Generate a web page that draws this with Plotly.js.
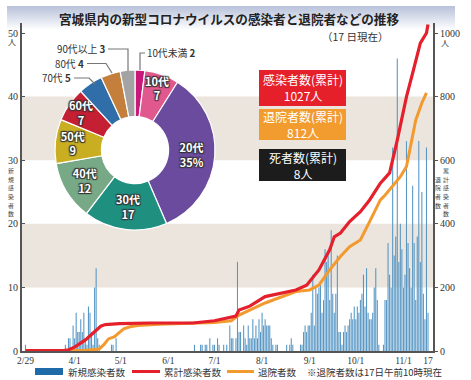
<!DOCTYPE html>
<html><head><meta charset="utf-8">
<script src="https://cdn.plot.ly/plotly-3.0.1.min.js"></script>
<style>html,body{margin:0;padding:0;background:#fff}</style>
</head><body><div id="chart" style="width:471px;height:380px"></div>
<script>
// ---- Daily new cases (2/29 .. 11/17) ----
const newFeb = [1];
const newMar = [0,0,0,0,0,0,0,0,0,0, 0,0,0,0,0,0,0,0,0,0, 0,0,0,0,0,1,0,2,2,0,4];
const newApr = [2,6,3,3,5,3,6,2,1,7, 6,3,1,10,13,2,1,0,0,0, 0,0,0,0,1,1,0,2,0,0];
const newMay = [0,0,0,0,0,0,0,0,0,0, 0,0,0,0,0,0,0,0,0,0, 0,0,0,0,0,0,0,0,0,0, 0];
const newJun = [0,0,0,0,0,0,0,0,0,0, 0,0,0,0,0,0,0,1,0,0, 0,1,1,0,1,1,0,2,0,1];
const newJul = [1,0,2,1,0,0,1,0,1,0, 4,2,2,0,2,14,3,3,0,4, 2,1,4,2,2,5,2,4,2,5, 3];
const newAug = [6,4,5,4,4,4,2,1,0,1, 1,0,0,0,0,0,1,0,1,2, 1,0,0,0,0,1,1,3,4,3, 4];
const newSep = [4,6,12,4,10,9,10,11,6,8, 16,14,15,8,19,9,6,9,15,3, 3,1,3,4,3,4,5,6,5,7];
const newOct = [5,7,6,8,9,12,7,13,6,5, 5,6,10,13,8,1,0,0,1,8, 8,17,12,10,32,15,18,46,14,20, 16];
const newNov = [10,12,33,17,13,10,26,17,8,18, 33,14,25,9,5,32,6];

// ---- Cumulative infected (read points) ----
const cumDates = ['2020-02-29','2020-03-25','2020-03-28','2020-04-01','2020-04-08','2020-04-13','2020-04-16','2020-04-18','2020-04-21','2020-04-30','2020-05-20','2020-06-17','2020-07-01','2020-07-09','2020-07-15','2020-07-17','2020-07-24','2020-08-03','2020-08-13','2020-08-23','2020-08-30','2020-09-07','2020-09-14','2020-09-17','2020-09-21','2020-09-27','2020-10-04','2020-10-10','2020-10-17','2020-10-23','2020-10-28','2020-11-03','2020-11-07','2020-11-12','2020-11-16','2020-11-17'];
const cumValues = [1,1,4,12,35,56,71,78,83,86,88,88,95,104,110,129,141,171,182,192,207,255,318,359,371,407,438,475,528,560,663,800,874,968,1000,1027];

// ---- Cumulative discharged (read points) ----
const recDates = ['2020-02-29','2020-04-04','2020-04-09','2020-04-17','2020-04-20','2020-04-23','2020-04-27','2020-04-30','2020-05-03','2020-05-07','2020-05-12','2020-05-26','2020-06-20','2020-07-01','2020-07-12','2020-07-17','2020-08-03','2020-08-23','2020-09-01','2020-09-07','2020-09-14','2020-09-21','2020-09-27','2020-10-04','2020-10-10','2020-10-17','2020-10-20','2020-10-30','2020-11-03','2020-11-06','2020-11-09','2020-11-13','2020-11-16'];
const recValues = [0,0,2,6,20,38,45,58,70,76,80,84,87,90,95,113,151,187,192,207,255,297,328,349,407,475,490,548,580,654,726,780,812];

// ---- Age breakdown (%) ----
const ageLabels = ['10代未満','10代','20代','30代','40代','50代','60代','70代','80代','90代以上'];
const ageValues = [2,7,35,17,12,9,7,5,4,3];
const ageText = ['', '10代<br>7', '20代<br>35%', '30代<br>17', '40代<br>12', '50代<br>9', '60代<br>7', '', '', ''];
const ageColors = ['#c8197a','#e0588e','#6b4b9e','#1f8f80','#78a987','#c9ae22','#c51f33','#2f6ea9','#c47f3c','#a3a3a3'];

// ---- Axis ticks / titles ----
const xTickVals = ['2020-02-29','2020-04-01','2020-05-01','2020-06-01','2020-07-01','2020-08-01','2020-09-01','2020-10-01','2020-11-01','2020-11-17'];
const xTickText = ['2/29','4/1','5/1','6/1','7/1','8/1','9/1','10/1','11/1','17'];
const yLeftTicks = [0,10,20,30,40,50];
const yRightTicks = [0,200,400,600,800,1000];
const leftTitle = '新規感染者数';
const rightTitle1 = '累計感染者数';
const rightTitle2 = '退院者数';

// summary boxes
const totalInfected = 1027, totalDischarged = 812, totalDeaths = 8;

const daily = [].concat(newFeb,newMar,newApr,newMay,newJun,newJul,newAug,newSep,newOct,newNov);
const dailyDates = daily.map((_, i) => new Date(Date.UTC(2020,1,29+i)).toISOString().slice(0,10));

// pixel -> paper helpers (plot area 22..433 x 23..351)
const PX = x => (x-22)/411, PY = y => (351-y)/328;
const serif = '"Liberation Serif","DejaVu Serif","Noto Sans CJK JP",serif';
const jp = '"Noto Sans CJK JP","Noto Sans",sans-serif';

const pieDomain = {x:[PX(55),PX(215)], y:[PY(230),PY(70)]};

const traces = [
  {type:'bar', x:dailyDates, y:daily, marker:{color:'#5897c4', line:{width:0}}, hoverinfo:'skip', showlegend:false},
  {type:'scatter', mode:'lines', x:recDates, y:recValues, yaxis:'y2', line:{color:'#f39a2e', width:3}, showlegend:false},
  {type:'scatter', mode:'lines', x:cumDates, y:cumValues, yaxis:'y2', line:{color:'#e4202c', width:3.2}, showlegend:false},
  {type:'pie', values:[1], labels:['bg'], marker:{colors:['#ffffff']}, textinfo:'none', hoverinfo:'skip', domain:pieDomain, sort:false, showlegend:false},
  {type:'pie', values:ageValues, labels:ageLabels, text:ageText, textinfo:'text', textposition:'inside', insidetextorientation:'horizontal',
   sort:false, direction:'clockwise', rotation:0, hole:0.42, domain:pieDomain, showlegend:false,
   marker:{colors:ageColors, line:{color:'#ffffff', width:1.2}},
   textfont:{color:'#ffffff', size:11, family:jp, weight:'bold', shadow:'1px 1px 1px #333, -1px -1px 1px #333, 1px -1px 1px #333, -1px 1px 1px #333'}}
];

const banner = 'data:image/svg+xml;utf8,' + encodeURIComponent('<svg xmlns="http://www.w3.org/2000/svg" width="100" height="100" preserveAspectRatio="none"><defs><linearGradient id="g" x1="0" y1="0" x2="0" y2="1"><stop offset="0" stop-color="#b7c1d9"/><stop offset="1" stop-color="#ffffff"/></linearGradient></defs><rect width="100" height="100" fill="url(#g)"/></svg>');

const ann = (x,y,text,font,extra) => Object.assign({xref:'paper',yref:'paper',x:PX(x),y:PY(y),text,showarrow:false,font,xanchor:'center',yanchor:'middle',borderpad:0},extra||{});
const tf = s => ({family:serif,size:s,color:'#333'});
const wf = s => ({family:jp,size:s,color:'#ffffff'});
const lf = {family:jp,size:9.8,color:'#333'};
const gf = {family:jp,size:9.5,color:'#333'};
const vf = {family:jp,size:5.9,color:'#444'};
// vertical (tategaki) text: one annotation per character
const vertical = (str, x, yStart, step) => Array.from(str).map((ch,i) => ann(x, yStart + i*step, ch, vf));

const annotations = [
  ann(229,18,'<b>宮城県内の新型コロナウイルスの感染者と退院者などの推移</b>',{family:jp,size:12.6,color:'#222'}),
  ann(355,36,'（17 日現在）',{family:jp,size:10.5,color:'#333'}),
  ann(12,42,'人',tf(8)),
  ann(445,43,'人',tf(8)),
  ...vertical(leftTitle, 11, 170.4, 8.7),
  ...vertical(rightTitle1, 446.5, 170.4, 8.7),
  ...vertical(rightTitle2, 438.5, 179.1, 8.7),
  // summary boxes
  ann(302.5,88,'感染者数(累計)<br>'+totalInfected+'人',wf(12)),
  ann(302.5,124.5,'退院者数(累計)<br>'+totalDischarged+'人',wf(12)),
  ann(302.5,165,'死者数(累計)<br>'+totalDeaths+'人',wf(12)),
  // pie outside labels
  ann(106,49,ageLabels[9]+' <b>'+ageValues[9]+'</b>',lf,{xanchor:'right'}),
  ann(85,63.5,ageLabels[8]+' <b>'+ageValues[8]+'</b>',lf,{xanchor:'right'}),
  ann(72,78,ageLabels[7]+' <b>'+ageValues[7]+'</b>',lf,{xanchor:'right'}),
  ann(146,53,ageLabels[0]+' <b>'+ageValues[0]+'</b>',lf,{xanchor:'left'}),
  // legend
  ann(67,372,'新規感染者数',gf,{xanchor:'left'}),
  ann(163,372,'累計感染者数',gf,{xanchor:'left'}),
  ann(257,372,'退院者数',gf,{xanchor:'left'}),
  ann(306,372,'※退院者数は17日午前10時現在',gf,{xanchor:'left'})
];

const line = (pts,color,w) => ({type:'path', xref:'paper', yref:'paper', layer:'above',
  path: pts.map((p,i)=>(i?'L':'M')+PX(p[0])+','+PY(p[1])).join(' '), line:{color:color,width:w}});
const rect = (x0,y0,x1,y1,color) => ({type:'rect', xref:'paper', yref:'paper', layer:'above', x0:PX(x0), x1:PX(x1), y0:PY(y1), y1:PY(y0), fillcolor:color, line:{width:0}});

const shapes = [
  {type:'rect', xref:'paper', yref:'y', x0:0, x1:1, y0:10, y1:20, fillcolor:'#ebe5de', line:{width:0}, layer:'below'},
  {type:'rect', xref:'paper', yref:'y', x0:0, x1:1, y0:30, y1:40, fillcolor:'#ebe5de', line:{width:0}, layer:'below'},
  rect(259,70,346,106,'#e5202b'),
  rect(259,109,346,140,'#f29b2f'),
  rect(259,149,346,181,'#1c1c1c'),
  line([[108,49],[128,49],[128,71]],'#777',1.2),
  line([[87,63.5],[106,63.5],[112,73]],'#777',1.2),
  line([[74,78],[89,78],[95,84]],'#777',1.2),
  line([[145,53],[140,53],[140,70]],'#777',1.2),
  rect(35,368,63,375,'#1f6aa8'),
  line([[132,371.5],[160,371.5]],'#e4202c',3),
  line([[227,371.5],[254,371.5]],'#f39a2e',3)
];

const layout = {
  width:471, height:380,
  margin:{l:22, r:38, t:23, b:29},
  paper_bgcolor:'#ffffff', plot_bgcolor:'rgba(0,0,0,0)',
  bargap:0.3,
  uniformtext:{mode:'show', minsize:11},
  xaxis:{type:'date', range:['2020-02-26 18:00','2020-11-20 06:00'], tickvals:xTickVals, ticktext:xTickText,
    showgrid:false, zeroline:false, showline:true, linecolor:'#555', linewidth:2, ticks:'', tickfont:tf(9.5), fixedrange:true},
  yaxis:{range:[0,50*328/318], tickvals:yLeftTicks, showgrid:false, zeroline:false, showline:true, linecolor:'#555', linewidth:2,
    ticks:'inside', ticklen:3, tickcolor:'#555', tickfont:tf(10), fixedrange:true},
  yaxis2:{range:[0,1000*328/318], tickvals:yRightTicks, overlaying:'y', side:'right', showgrid:false, zeroline:false, showline:true,
    linecolor:'#555', linewidth:2, ticks:'outside', ticklen:3, tickcolor:'#555', tickfont:tf(10), fixedrange:true},
  images:[{source:banner, xref:'paper', yref:'paper', x:PX(7), y:PY(6), sizex:448/411, sizey:24/328, sizing:'stretch', layer:'below', xanchor:'left', yanchor:'top'}],
  annotations, shapes,
  showlegend:false
};

Plotly.newPlot('chart', traces, layout, {displayModeBar:false, staticPlot:true});
</script></body></html>
